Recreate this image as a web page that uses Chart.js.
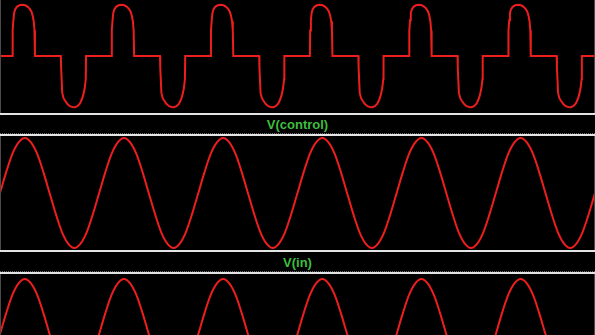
<!DOCTYPE html>
<html>
<head>
<meta charset="utf-8">
<script src="https://cdn.jsdelivr.net/npm/chart.js@4/dist/chart.umd.min.js"></script>
<style>
  html, body { margin:0; padding:0; background:#000; }
  body { width:595px; height:335px; overflow:hidden; position:relative; }
  .pane { position:absolute; left:0; width:595px; }
  .hline { position:absolute; left:0; width:595px; height:2px; background:#e4e4e4; }
  .dot { position:absolute; left:0; width:595px; height:0; border-top:1px dotted #6a6a6a; }
  .vline { position:absolute; width:1px; background:#4a4a4a; }
  .lbl { position:absolute; left:0; width:595px; text-align:center; color:rgb(62,190,62);
         font:bold 13px "Liberation Sans", Arial, sans-serif; height:19px; line-height:19px; }
</style>
</head>
<body>
<div class="pane" style="top:0;height:113px"><canvas id="c1" width="595" height="113"></canvas></div>
<div class="hline" style="top:113px"></div>
<div class="lbl" style="top:115px">V(control)</div>
<div class="dot" style="top:133px"></div>
<div class="hline" style="top:134px"></div>
<div class="pane" style="top:136px;height:114px"><canvas id="c2" width="595" height="114"></canvas></div>
<div class="hline" style="top:250px"></div>
<div class="lbl" style="top:253px">V(in)</div>
<div class="dot" style="top:271px"></div>
<div class="hline" style="top:272px"></div>
<div class="pane" style="top:274px;height:61px"><canvas id="c3" width="595" height="61"></canvas></div>
<div class="vline" style="left:0;top:0;height:113px"></div>
<div class="vline" style="left:594px;top:0;height:113px"></div>
<div class="vline" style="left:0;top:136px;height:114px"></div>
<div class="vline" style="left:594px;top:136px;height:114px"></div>
<div class="vline" style="left:0;top:274px;height:61px"></div>
<div class="vline" style="left:594px;top:274px;height:61px"></div>
<script>
// time axis (ms)
const timeSine = [
  0, 1.25, 2.5, 3.75, 5, 6.25, 7.5, 8.75, 10, 11.25, 12.5, 13.75, 15, 16.25, 17.5, 18.75,
  20, 21.25, 22.5, 23.75, 25, 26.25, 27.5, 28.75, 30, 31.25, 32.5, 33.75, 35, 36.25, 37.5, 38.75,
  40, 41.25, 42.5, 43.75, 45, 46.25, 47.5, 48.75, 50, 51.25, 52.5, 53.75, 55, 56.25, 57.5, 58.75,
  60, 61.25, 62.5, 63.75, 65, 66.25, 67.5, 68.75, 70, 71.25, 72.5, 73.75, 75, 76.25, 77.5, 78.75,
  80, 81.25, 82.5, 83.75, 85, 86.25, 87.5, 88.75, 90, 91.25, 92.5, 93.75, 95, 96.25, 97.5, 98.75,
  100, 101.25, 102.5, 103.75, 105, 106.25, 107.5, 108.75, 110, 111.25, 112.5, 113.75, 115, 116.25, 117.5, 118.75,
  120
];
const vControl = [
  0, 0.38, 0.71, 0.92, 1, 0.92, 0.71, 0.38, 0, -0.38, -0.71, -0.92, -1, -0.92, -0.71, -0.38,
  0, 0.38, 0.71, 0.92, 1, 0.92, 0.71, 0.38, 0, -0.38, -0.71, -0.92, -1, -0.92, -0.71, -0.38,
  0, 0.38, 0.71, 0.92, 1, 0.92, 0.71, 0.38, 0, -0.38, -0.71, -0.92, -1, -0.92, -0.71, -0.38,
  0, 0.38, 0.71, 0.92, 1, 0.92, 0.71, 0.38, 0, -0.38, -0.71, -0.92, -1, -0.92, -0.71, -0.38,
  0, 0.38, 0.71, 0.92, 1, 0.92, 0.71, 0.38, 0, -0.38, -0.71, -0.92, -1, -0.92, -0.71, -0.38,
  0, 0.38, 0.71, 0.92, 1, 0.92, 0.71, 0.38, 0, -0.38, -0.71, -0.92, -1, -0.92, -0.71, -0.38,
  0
];
const vIn = [
  0, 0.38, 0.71, 0.92, 1, 0.92, 0.71, 0.38, 0, -0.38, -0.71, -0.92, -1, -0.92, -0.71, -0.38,
  0, 0.38, 0.71, 0.92, 1, 0.92, 0.71, 0.38, 0, -0.38, -0.71, -0.92, -1, -0.92, -0.71, -0.38,
  0, 0.38, 0.71, 0.92, 1, 0.92, 0.71, 0.38, 0, -0.38, -0.71, -0.92, -1, -0.92, -0.71, -0.38,
  0, 0.38, 0.71, 0.92, 1, 0.92, 0.71, 0.38, 0, -0.38, -0.71, -0.92, -1, -0.92, -0.71, -0.38,
  0, 0.38, 0.71, 0.92, 1, 0.92, 0.71, 0.38, 0, -0.38, -0.71, -0.92, -1, -0.92, -0.71, -0.38,
  0, 0.38, 0.71, 0.92, 1, 0.92, 0.71, 0.38, 0, -0.38, -0.71, -0.92, -1, -0.92, -0.71, -0.38,
  0
];
// chopped output waveform (top pane)
const timeOut = [
  0,
  2.5, 2.55, 2.7, 2.85, 3.05, 3.4, 3.9, 4.5, 5.1, 5.6, 6.0, 6.35, 6.6, 6.8, 6.95, 7.05,
  12.28, 12.32, 12.55, 12.8, 13.1, 13.6, 14.1, 14.6, 15.1, 15.6, 16.1, 16.5, 16.8, 17.1, 17.3, 17.35,
  22.5, 22.55, 22.7, 22.85, 23.05, 23.4, 23.9, 24.5, 25.1, 25.6, 26.0, 26.35, 26.6, 26.8, 26.95, 27.05,
  32.28, 32.32, 32.55, 32.8, 33.1, 33.6, 34.1, 34.6, 35.1, 35.6, 36.1, 36.5, 36.8, 37.1, 37.3, 37.35,
  42.5, 42.55, 42.7, 42.85, 43.05, 43.4, 43.9, 44.5, 45.1, 45.6, 46.0, 46.35, 46.6, 46.8, 46.95, 47.05,
  52.28, 52.32, 52.55, 52.8, 53.1, 53.6, 54.1, 54.6, 55.1, 55.6, 56.1, 56.5, 56.8, 57.1, 57.3, 57.35,
  62.5, 62.55, 62.7, 62.85, 63.05, 63.4, 63.9, 64.5, 65.1, 65.6, 66.0, 66.35, 66.6, 66.8, 66.95, 67.05,
  72.28, 72.32, 72.55, 72.8, 73.1, 73.6, 74.1, 74.6, 75.1, 75.6, 76.1, 76.5, 76.8, 77.1, 77.3, 77.35,
  82.5, 82.55, 82.7, 82.85, 83.05, 83.4, 83.9, 84.5, 85.1, 85.6, 86.0, 86.35, 86.6, 86.8, 86.95, 87.05,
  92.28, 92.32, 92.55, 92.8, 93.1, 93.6, 94.1, 94.6, 95.1, 95.6, 96.1, 96.5, 96.8, 97.1, 97.3, 97.35,
  102.5, 102.55, 102.7, 102.85, 103.05, 103.4, 103.9, 104.5, 105.1, 105.6, 106.0, 106.35, 106.6, 106.8, 106.95, 107.05,
  112.28, 112.32, 112.55, 112.8, 113.1, 113.6, 114.1, 114.6, 115.1, 115.6, 116.1, 116.5, 116.8, 117.1, 117.3, 117.35,
  120
];
const vOut = [
  0,
  0, 0.5, 0.7, 0.84, 0.91, 0.96, 0.99, 1, 0.99, 0.96, 0.92, 0.865, 0.78, 0.68, 0.5, 0,
  0, -0.22, -0.72, -0.82, -0.87, -0.94, -0.98, -0.995, -1, -0.98, -0.93, -0.85, -0.76, -0.62, -0.45, 0,
  0, 0.5, 0.7, 0.84, 0.91, 0.96, 0.99, 1, 0.99, 0.96, 0.92, 0.865, 0.78, 0.68, 0.5, 0,
  0, -0.22, -0.72, -0.82, -0.87, -0.94, -0.98, -0.995, -1, -0.98, -0.93, -0.85, -0.76, -0.62, -0.45, 0,
  0, 0.5, 0.7, 0.84, 0.91, 0.96, 0.99, 1, 0.99, 0.96, 0.92, 0.865, 0.78, 0.68, 0.5, 0,
  0, -0.22, -0.72, -0.82, -0.87, -0.94, -0.98, -0.995, -1, -0.98, -0.93, -0.85, -0.76, -0.62, -0.45, 0,
  0, 0.5, 0.7, 0.84, 0.91, 0.96, 0.99, 1, 0.99, 0.96, 0.92, 0.865, 0.78, 0.68, 0.5, 0,
  0, -0.22, -0.72, -0.82, -0.87, -0.94, -0.98, -0.995, -1, -0.98, -0.93, -0.85, -0.76, -0.62, -0.45, 0,
  0, 0.5, 0.7, 0.84, 0.91, 0.96, 0.99, 1, 0.99, 0.96, 0.92, 0.865, 0.78, 0.68, 0.5, 0,
  0, -0.22, -0.72, -0.82, -0.87, -0.94, -0.98, -0.995, -1, -0.98, -0.93, -0.85, -0.76, -0.62, -0.45, 0,
  0, 0.5, 0.7, 0.84, 0.91, 0.96, 0.99, 1, 0.99, 0.96, 0.92, 0.865, 0.78, 0.68, 0.5, 0,
  0, -0.22, -0.72, -0.82, -0.87, -0.94, -0.98, -0.995, -1, -0.98, -0.93, -0.85, -0.76, -0.62, -0.45, 0,
  0
];

const RED = 'rgb(236,30,30)';
function toPoints(xs, ys) { return xs.map((x, i) => ({ x: x, y: ys[i] })); }

function makeChart(id, xs, ys, yMin, yMax, smooth) {
  return new Chart(document.getElementById(id), {
    type: 'line',
    data: { datasets: [{
      data: toPoints(xs, ys),
      borderColor: RED,
      borderWidth: 2,
      pointRadius: 0,
      fill: false,
      tension: 0,
      cubicInterpolationMode: smooth ? 'monotone' : 'default'
    }]},
    options: {
      responsive: false,
      animation: false,
      devicePixelRatio: 1,
      parsing: false,
      layout: { padding: 0 },
      plugins: { legend: { display: false }, tooltip: { enabled: false }, title: { display: false } },
      scales: {
        x: { type: 'linear', min: 0, max: 120, display: false },
        y: { type: 'linear', min: yMin, max: yMax, display: false }
      }
    }
  });
}

makeChart('c1', timeOut, vOut, -1.113, 1.094, false);
makeChart('c2', timeSine, vControl, -1.036, 1.036, true);
makeChart('c3', timeSine, vIn, -0.018, 1.091, true);
</script>
</body>
</html>
